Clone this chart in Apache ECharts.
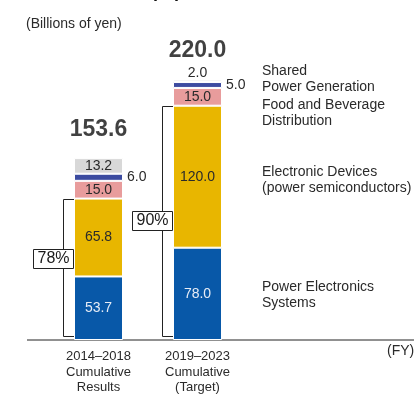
<!DOCTYPE html>
<html><head><meta charset="utf-8">
<script src="https://cdn.jsdelivr.net/npm/echarts@6/dist/echarts.min.js"></script>
<style>html,body{margin:0;padding:0;background:#fff}#c{width:414px;height:397px}</style>
</head><body><div id="c"></div>
<script>
const categories = ['2014–2018\nCumulative\nResults', '2019–2023\nCumulative\n(Target)'];
const powerElectronics = [53.7, 78.0];
const electronicDevices = [65.8, 120.0];
const foodBeverage = [15.0, 15.0];
const powerGeneration = [6.0, 5.0];
const shared = [13.2, 2.0];
const totals = [153.6, 220.0];
const shareLabels = ['78%', '90%'];
const sideLabels = ['Shared', 'Power Generation', 'Food and Beverage', 'Distribution',
  'Electronic Devices', '(power semiconductors)', 'Power Electronics', 'Systems'];

const FONT = '"Liberation Sans", Arial, Helvetica, sans-serif';
const TXT = '#2a2a2a';
const chart = echarts.init(document.getElementById('c'));
const lbl = (color) => ({show: true, position: 'inside', color: color, fontSize: 14, fontFamily: FONT,
  formatter: p => p.value.toFixed(1)});
const base = {type: 'bar', stack: 'a', barWidth: 49, itemStyle: {borderColor: '#fff', borderWidth: 1}};

chart.setOption({
  animation: false,
  textStyle: {fontFamily: FONT},
  grid: {left: 49, width: 198, top: 56, bottom: 57},
  xAxis: {type: 'category', data: categories,
    axisLine: {show: false}, axisTick: {show: false},
    axisLabel: {color: TXT, fontSize: 13, lineHeight: 15.5, margin: 9, fontFamily: FONT}},
  yAxis: {type: 'value', min: 0, max: 240, show: false, splitLine: {show: false}},
  series: [
    Object.assign({}, base, {name: 'Power Electronics Systems', data: powerElectronics,
      itemStyle: {color: '#0858a8', borderColor: '#fff', borderWidth: 1}, label: lbl('#e6ecf6')}),
    Object.assign({}, base, {name: 'Electronic Devices', data: electronicDevices,
      itemStyle: {color: '#e8b600', borderColor: '#fff', borderWidth: 1}, label: lbl(TXT)}),
    Object.assign({}, base, {name: 'Food and Beverage Distribution', data: foodBeverage,
      itemStyle: {color: '#e89c9c', borderColor: '#fff', borderWidth: 1}, label: lbl(TXT)}),
    Object.assign({}, base, {name: 'Power Generation', data: powerGeneration,
      itemStyle: {color: '#3c4ba0', borderColor: '#fff', borderWidth: 1},
      label: Object.assign(lbl(TXT), {position: 'right', distance: 4})}),
    Object.assign({}, base, {name: 'Shared',
      data: shared.map((v, i) => i === 1 ? {value: v, label: {position: 'top', distance: 0}} : v),
      itemStyle: {color: '#d8d8d8', borderColor: '#fff', borderWidth: 1}, label: lbl(TXT)}),
    {type: 'scatter', symbolSize: 0, data: totals.map((v, i) => [i, v]),
      label: {show: true, position: 'inside', offset: [0, -29], fontSize: 23, fontWeight: 'bold',
        color: '#111', fontFamily: FONT, formatter: p => totals[p.dataIndex].toFixed(1)}}
  ]
});

const boxCenters = [69, 101];
const g = [];
const y0 = chart.convertToPixel({seriesIndex: 0}, [0, 0])[1];
g.push({type: 'line', shape: {x1: 27, y1: y0, x2: 414, y2: y0}, style: {stroke: '#222', lineWidth: 1}});
for (let i = 0; i < categories.length; i++) {
  const top = chart.convertToPixel({seriesIndex: 0}, [i, powerElectronics[i] + electronicDevices[i]]);
  const left = Math.round(top[0] - 24.5);
  const yt = Math.round(top[1]) + 0.5;
  const xb = left - 10.5;
  g.push({type: 'polyline', shape: {points: [[left, yt], [xb, yt], [xb, y0 - 3.5], [left, y0 - 3.5]]},
    style: {stroke: '#222', lineWidth: 1, fill: null}, z: 5});
  const yc = chart.convertToPixel({seriesIndex: 0}, [i, boxCenters[i]])[1];
  g.push({type: 'rect', shape: {x: left - 40.5, y: Math.round(yc - 9.5) + 0.5, width: 40, height: 19},
    style: {fill: '#fff', stroke: '#222', lineWidth: 1}, z: 6});
  g.push({type: 'text', x: left - 20.5, y: yc + 0.5, z: 7,
    style: {text: shareLabels[i], fontSize: 16, fontFamily: FONT, fill: '#1a1a1a', align: 'center', verticalAlign: 'middle'}});
}
const sideY = [71, 87, 105, 121, 172, 188, 287, 303];
sideLabels.forEach((t, k) => g.push({type: 'text', x: 262, y: sideY[k],
  style: {text: t, fontSize: 14, fontFamily: FONT, fill: TXT, verticalAlign: 'middle'}}));
g.push({type: 'text', x: 387, y: 351, style: {text: '(FY)', fontSize: 14, fontFamily: FONT, fill: TXT, verticalAlign: 'middle'}});
g.push({type: 'text', x: 26, y: 24, style: {text: '(Billions of yen)', fontSize: 14, fontFamily: FONT, fill: TXT, verticalAlign: 'middle'}});
g.push({type: 'text', x: 63, y: 1, style: {text: 'Plan for Equipment Investment', fontSize: 18, fontWeight: 'bold', fontFamily: FONT, fill: '#111', verticalAlign: 'bottom'}});
chart.setOption({graphic: g});
</script>
</body></html>
